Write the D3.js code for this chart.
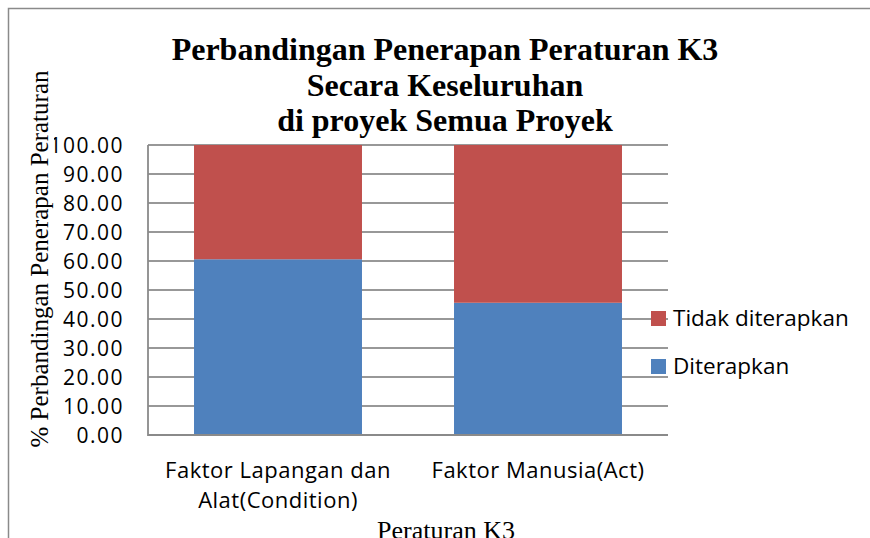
<!DOCTYPE html>
<html>
<head>
<meta charset="utf-8">
<script src="https://cdn.jsdelivr.net/npm/d3@7"></script>
<style>
  body { margin: 0; background: #fff; }
  svg { display: block; }
</style>
</head>
<body>
<div id="chart"></div>
<script>
// data
var categories = ["Faktor Lapangan dan Alat(Condition)", "Faktor Manusia(Act)"];
var categoryLines = [["Faktor Lapangan dan", "Alat(Condition)"], ["Faktor Manusia(Act)"]];
var diterapkan = [60.6, 45.6];
var tidakDiterapkan = [39.4, 54.4];
var seriesNames = ["Diterapkan", "Tidak diterapkan"];
var yTicks = [0, 10, 20, 30, 40, 50, 60, 70, 80, 90, 100];
var titleLines = ["Perbandingan Penerapan Peraturan K3", "Secara Keseluruhan", "di proyek Semua Proyek"];
var yTitle = "% Perbandingan Penerapan Peraturan";
var xTitle = "Peraturan K3";

var width = 870, height = 538;
var plot = {left: 148, right: 668, top: 145, bottom: 435};
var colors = {"Diterapkan": "#4F81BD", "Tidak diterapkan": "#C0504D"};

var svg = d3.select("#chart").append("svg")
    .attr("width", width)
    .attr("height", height);

/* outer frame (only top and left show) */
svg.append("path")
    .attr("d", "M8.5," + height + "V8.5H" + width)
    .attr("fill", "none")
    .attr("stroke", "#8a8a8a")
    .attr("stroke-width", 1.5);

/* Scales */
var x = d3.scaleBand()
    .domain(categories)
    .range([plot.left, plot.right])
    .paddingInner(0.354)
    .paddingOuter(0.177);
var y = d3.scaleLinear()
    .domain([0, 100])
    .range([plot.bottom, plot.top]);

/* Gridlines */
svg.append("g")
    .selectAll("line")
    .data(yTicks)
    .enter().append("line")
        .attr("x1", plot.left)
        .attr("x2", plot.right)
        .attr("y1", function(d){ return y(d); })
        .attr("y2", function(d){ return y(d); })
        .attr("stroke", "#989898")
        .attr("stroke-width", 1.8);

/* Stacked bars */
var rows = categories.map(function(c, i){
    return {cat: c, "Diterapkan": diterapkan[i], "Tidak diterapkan": tidakDiterapkan[i]};
});
var stack = d3.stack().keys(seriesNames)(rows);

svg.append("g")
    .selectAll("g")
    .data(stack)
    .enter().append("g")
        .attr("fill", function(d){ return colors[d.key]; })
    .selectAll("rect")
    .data(function(d){ return d; })
    .enter().append("rect")
        .attr("x", function(d){ return x(d.data.cat); })
        .attr("width", x.bandwidth())
        .attr("y", function(d){ return y(d[1]); })
        .attr("height", function(d){ return y(d[0]) - y(d[1]); });

/* Axis lines */
svg.append("path")
    .attr("d", "M" + plot.left + "," + plot.top + "V" + plot.bottom + "H" + plot.right)
    .attr("fill", "none")
    .attr("stroke", "#8a8a8a")
    .attr("stroke-width", 1.8);

/* Y axis */
var yAxis = d3.axisLeft(y)
    .tickValues(yTicks)
    .tickFormat(d3.format(".2f"))
    .tickSize(0)
    .tickPadding(0);
var gy = svg.append("g")
    .attr("transform", "translate(124,0)")
    .call(yAxis);
gy.select(".domain").remove();
gy.selectAll("text")
    .attr("dy", "0.37em")
    .style("font-family", "'Open Sans', sans-serif")
    .style("font-size", "21px")
    .style("letter-spacing", "1.5px")
    .attr("fill", "#000");

/* X axis */
var xAxis = d3.axisBottom(x).tickSize(0).tickFormat("");
var gx = svg.append("g")
    .attr("transform", "translate(0," + plot.bottom + ")")
    .call(xAxis);
gx.select(".domain").remove();
gx.selectAll(".tick text").remove();
gx.selectAll(".tick").append("text")
    .attr("text-anchor", "middle")
    .attr("fill", "#000")
    .style("font-family", "'Open Sans', sans-serif")
    .style("font-size", "22px")
    .style("letter-spacing", "0.5px")
    .each(function(d, i){
        var t = d3.select(this);
        categoryLines[i].forEach(function(line, j){
            t.append("tspan")
                .attr("x", 0)
                .attr("y", 43 + j * 30)
                .text(line);
        });
    });

/* Y title, with its box hiding part of the top tick */
svg.append("rect")
    .attr("x", 28).attr("y", 66)
    .attr("width", 26).attr("height", 388)
    .attr("fill", "#fff");
svg.append("text")
    .attr("transform", "translate(48,259) rotate(-90)")
    .attr("text-anchor", "middle")
    .style("font-family", "'Liberation Serif', 'Times New Roman', serif")
    .style("font-size", "25px")
    .text(yTitle);

/* X title (cut by the bottom edge) */
svg.append("text")
    .attr("x", 446)
    .attr("y", 539)
    .attr("text-anchor", "middle")
    .style("font-family", "'Liberation Serif', 'Times New Roman', serif")
    .style("font-size", "26px")
    .text(xTitle);

/* Title */
svg.append("g")
    .selectAll("text")
    .data(titleLines)
    .enter().append("text")
        .attr("x", 445)
        .attr("y", function(d, i){ return 60 + i * 35.5; })
        .attr("text-anchor", "middle")
        .style("font-family", "'Liberation Serif', 'Times New Roman', serif")
        .style("font-weight", "bold")
        .style("font-size", "32px")
        .text(function(d){ return d; });

/* Legend */
var legend = svg.append("g")
    .selectAll("g")
    .data(seriesNames.slice().reverse())
    .enter().append("g")
        .attr("transform", function(d, i){ return "translate(651," + (311 + i * 48) + ")"; });
legend.append("rect")
    .attr("width", 15)
    .attr("height", 15)
    .attr("fill", function(d){ return colors[d]; });
legend.append("text")
    .attr("x", 22)
    .attr("y", 14.5)
    .style("font-family", "'Open Sans', sans-serif")
    .style("font-size", "22.5px")
    .attr("fill", "#000")
    .text(function(d){ return d; });
</script>
</body>
</html>
